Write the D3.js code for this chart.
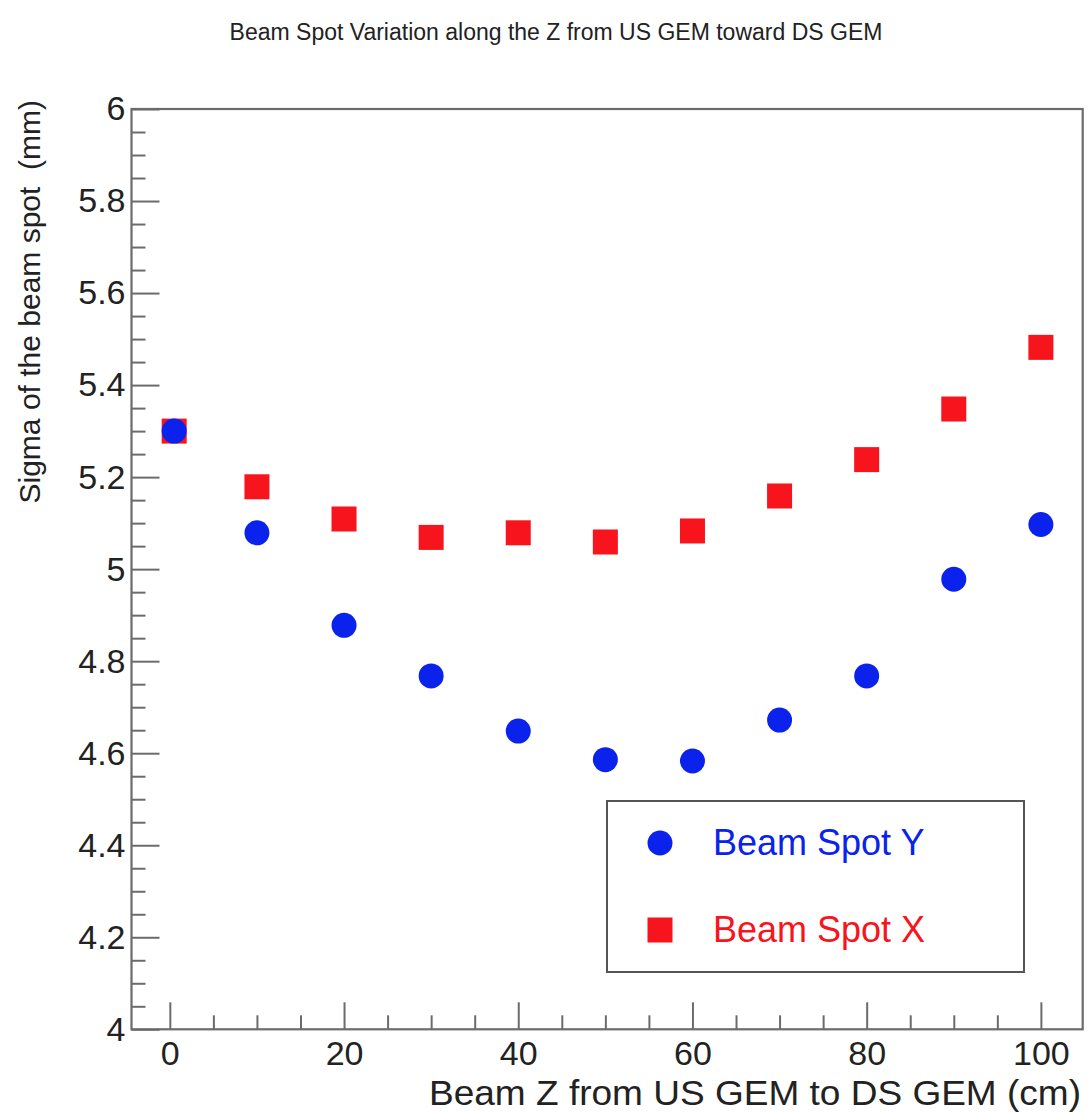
<!DOCTYPE html>
<html>
<head>
<meta charset="utf-8">
<script src="https://cdn.jsdelivr.net/npm/d3@7"></script>
<style>
  body { margin: 0; background: #fff; }
  svg text { font-family: "Liberation Sans", Arial, Helvetica, sans-serif; }
</style>
</head>
<body>
<div id="chart"></div>
<script>
// Beam spot sigma vs Z position

const zPositions = [0.5, 10, 20, 30, 40, 50, 60, 70, 80, 90, 100];
const sigmaX = [5.30, 5.179, 5.109, 5.069, 5.079, 5.059, 5.083, 5.159, 5.238, 5.348, 5.482];
const sigmaY = [5.30, 5.079, 4.878, 4.768, 4.648, 4.586, 4.583, 4.672, 4.768, 4.978, 5.097];

const xMajorTicks = [0, 20, 40, 60, 80, 100];
const yMajorTicks = [4, 4.2, 4.4, 4.6, 4.8, 5, 5.2, 5.4, 5.6, 5.8, 6];

const seriesNames = ["Beam Spot Y", "Beam Spot X"];
const blue = "#0a22ec";
const red = "#f8141c";
const frameColor = "#6b6b6b";
const textColor = "#222";

const W = 1089, H = 1112;
const frame = { left: 131.5, right: 1082.7, top: 109, bottom: 1029.3 };

const svg = d3.select("#chart").append("svg")
  .attr("width", W)
  .attr("height", H);

const x = d3.scaleLinear()
  .domain([-4.4, 104.8])
  .range([frame.left, frame.right]);

const y = d3.scaleLinear()
  .domain([4, 6])
  .range([frame.bottom, frame.top]);

// minor ticks
const xMinor = d3.range(0, 105, 5).filter(v => v % 20 !== 0);
const yMinor = d3.range(4, 6.001, 0.05).map(v => +v.toFixed(2))
  .filter(v => Math.abs(v * 5 - Math.round(v * 5)) > 1e-6);

svg.append("g")
  .attr("transform", `translate(0,${frame.bottom})`)
  .call(d3.axisBottom(x).tickValues(xMajorTicks).tickSize(-27).tickPadding(12).tickFormat(d3.format("d")));

svg.append("g")
  .attr("transform", `translate(0,${frame.bottom})`)
  .call(d3.axisBottom(x).tickValues(xMinor).tickSize(-14).tickFormat(""));

svg.append("g")
  .attr("transform", `translate(${frame.left},0)`)
  .call(d3.axisLeft(y).tickValues(yMajorTicks).tickSize(-28).tickPadding(6).tickFormat(d => String(+d.toFixed(1))));

svg.append("g")
  .attr("transform", `translate(${frame.left},0)`)
  .call(d3.axisLeft(y).tickValues(yMinor).tickSize(-14).tickFormat(""));

svg.selectAll(".domain").remove();
svg.selectAll(".tick line")
  .attr("stroke", frameColor)
  .attr("stroke-width", 2);
svg.selectAll(".tick text")
  .attr("fill", textColor)
  .style("font-size", "34px");

// frame
svg.append("rect")
  .attr("x", frame.left)
  .attr("y", frame.top)
  .attr("width", frame.right - frame.left)
  .attr("height", frame.bottom - frame.top)
  .attr("fill", "none")
  .attr("stroke", frameColor)
  .attr("stroke-width", 2.2);

// titles
svg.append("text")
  .attr("x", 556)
  .attr("y", 40)
  .attr("text-anchor", "middle")
  .attr("fill", textColor)
  .style("font-size", "23px")
  .text("Beam Spot Variation along the Z from US GEM toward DS GEM");

svg.append("text")
  .attr("x", 429)
  .attr("y", 1105)
  .attr("textLength", 652)
  .attr("lengthAdjust", "spacingAndGlyphs")
  .attr("fill", textColor)
  .style("font-size", "35px")
  .text("Beam Z from US GEM to DS GEM (cm)");

svg.append("text")
  .attr("transform", "translate(40,100) rotate(-90)")
  .attr("text-anchor", "end")
  .attr("fill", textColor)
  .style("font-size", "30px")
  .style("white-space", "pre")
  .text("Sigma of the beam spot  (mm)");

// data
const points = zPositions.map((z, i) => ({ z, sx: sigmaX[i], sy: sigmaY[i] }));
const sq = 25;

svg.selectAll(".pt-x")
  .data(points)
  .join("rect")
  .attr("class", "pt-x")
  .attr("x", d => x(d.z) - sq / 2)
  .attr("y", d => y(d.sx) - sq / 2)
  .attr("width", sq)
  .attr("height", sq)
  .attr("fill", red);

svg.selectAll(".pt-y")
  .data(points)
  .join("circle")
  .attr("class", "pt-y")
  .attr("cx", d => x(d.z))
  .attr("cy", d => y(d.sy))
  .attr("r", 12.5)
  .attr("fill", blue);

// legend
const legend = svg.append("g").attr("transform", "translate(607,801)");
legend.append("rect")
  .attr("width", 417)
  .attr("height", 171)
  .attr("fill", "#fff")
  .attr("stroke", "#555")
  .attr("stroke-width", 2);

legend.append("circle")
  .attr("cx", 53)
  .attr("cy", 42)
  .attr("r", 12.5)
  .attr("fill", blue);
legend.append("rect")
  .attr("x", 53 - sq / 2)
  .attr("y", 129 - sq / 2)
  .attr("width", sq)
  .attr("height", sq)
  .attr("fill", red);

legend.selectAll(".leg-label")
  .data(seriesNames)
  .join("text")
  .attr("class", "leg-label")
  .attr("x", 106)
  .attr("y", (d, i) => 54 + i * 87)
  .attr("fill", (d, i) => i === 0 ? blue : red)
  .style("font-size", "36px")
  .text(d => d);
</script>
</body>
</html>
